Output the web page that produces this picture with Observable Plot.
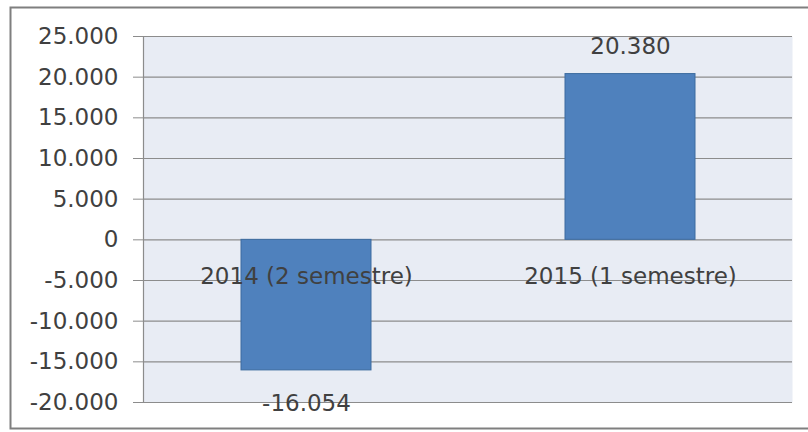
<!DOCTYPE html>
<html>
<head>
<meta charset="utf-8">
<script src="https://cdn.jsdelivr.net/npm/d3@7"></script>
<script src="https://cdn.jsdelivr.net/npm/@observablehq/plot@0.6"></script>
<style>
  html, body { margin: 0; padding: 0; background: #fff; }
</style>
</head>
<body>
<div id="chart"></div>
<script>
const categories = ["2014 (2 semestre)", "2015 (1 semestre)"];
const values = [-16054, 20380];
const yTicks = [-20000, -15000, -10000, -5000, 0, 5000, 10000, 15000, 20000, 25000];

const locale = d3.formatLocale({decimal: ",", thousands: ".", grouping: [3], currency: ["", ""], minus: "-"});
const fmt = locale.format(",d");

const data = categories.map((c, i) => ({cat: c, value: values[i]}));
const positive = data.filter(d => d.value >= 0);
const negative = data.filter(d => d.value < 0);

const chart = Plot.plot({
  width: 808,
  height: 432,
  marginLeft: 143,
  marginRight: 16,
  marginTop: 36,
  marginBottom: 30,
  style: {fontFamily: "DejaVu Sans", fontSize: "23px", color: "#404040", background: "#fff"},
  x: {domain: categories, paddingInner: 0.6, paddingOuter: 0.3, axis: null},
  y: {domain: [-20000, 25000], ticks: yTicks, tickFormat: fmt},
  marks: [
    Plot.frame({fill: "#e8ecf4"}),
    Plot.ruleY(yTicks, {stroke: "#8c8c8c", strokeWidth: 1.2}),
    Plot.frame({anchor: "left", stroke: "#8c8c8c", strokeWidth: 1.2}),
    Plot.axisY({ticks: yTicks, tickSize: 10, tickPadding: 15, tickFormat: fmt, label: null, stroke: "#8c8c8c", fill: "#404040"}),
    Plot.barY(data, {x: "cat", y: "value", fill: "#4f81bd", stroke: "#3c6b9f", strokeWidth: 1}),
    Plot.text(data, {x: "cat", y: 0, dy: 37, text: "cat", fill: "#404040"}),
    Plot.text(positive, {x: "cat", y: "value", dy: -27, text: d => fmt(d.value), fill: "#404040"}),
    Plot.text(negative, {x: "cat", y: "value", dy: 33, text: d => fmt(d.value), fill: "#404040"}),
    Plot.frame({stroke: "#7f7f7f", strokeWidth: 2, insetLeft: -133, insetTop: -29, insetBottom: -26, insetRight: -20})
  ]
});
document.getElementById("chart").appendChild(chart);
</script>
</body>
</html>
